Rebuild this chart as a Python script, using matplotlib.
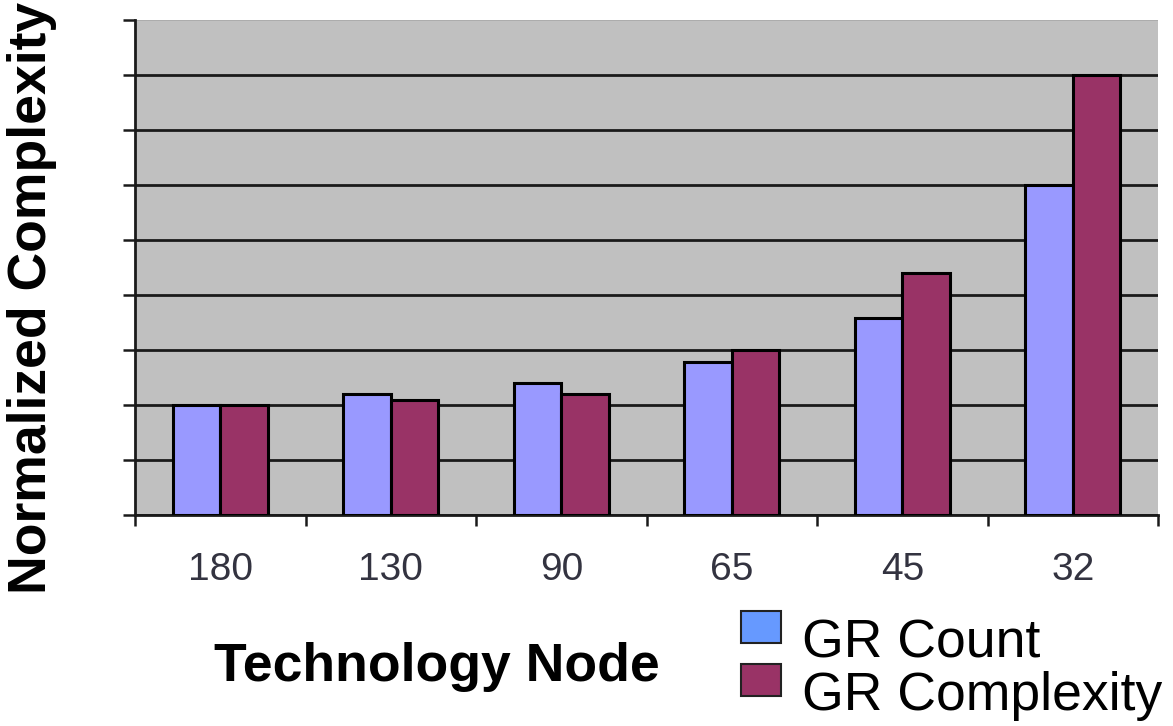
import numpy as np
import matplotlib.pyplot as plt
from matplotlib.patches import Rectangle

# technology nodes (nm) and normalized values, 180nm = 1
nodes = ['180', '130', '90', '65', '45', '32']
gr_count = [1.0, 1.1, 1.2, 1.39, 1.79, 3.0]
gr_complexity = [1.0, 1.05, 1.1, 1.5, 2.2, 4.0]
y_ticks = np.arange(0, 4.51, 0.5)

plt.rcParams['font.family'] = ['Liberation Sans', 'DejaVu Sans']

fig = plt.figure(figsize=(11.73, 7.26), dpi=100)
ax = fig.add_axes([135/1173, 1 - 515/726, (1158 - 135)/1173, (515 - 20)/726])
ax.set_facecolor('#C0C0C0')

x = np.arange(len(nodes))
w = 0.28
ax.bar(x - w/2, gr_count, w, color='#9999FF', edgecolor='black', linewidth=2.2, zorder=3)
ax.bar(x + w/2, gr_complexity, w, color='#993366', edgecolor='black', linewidth=2.2, zorder=3)

ax.set_xlim(-0.5, len(nodes) - 0.5)
ax.set_ylim(0, 4.5)

# y axis: ticks and dark gridlines, no labels
ax.set_yticks(y_ticks)
ax.set_yticklabels([])
ax.yaxis.grid(True, color='#1a1a1a', linewidth=2.0, zorder=1)
ax.set_axisbelow(True)
gl = ax.yaxis.get_gridlines()
gl[-1].set_color('#a8a8a8')
gl[-1].set_linewidth(1.2)
ax.tick_params(axis='y', length=9, width=1.8, color='#1a1a1a', direction='out')

# x axis: labels at centres, ticks between categories
ax.set_xticks(x)
ax.set_xticklabels(nodes, fontsize=28, color='#333340')
ax.set_xticks(np.arange(-0.5, len(nodes), 1), minor=True)
ax.tick_params(axis='x', which='major', length=0, pad=27)
ax.tick_params(axis='x', which='minor', length=8, width=1.8, color='#1a1a1a', direction='out')

for side in ['top', 'right']:
    ax.spines[side].set_visible(False)
for side in ['left', 'bottom']:
    ax.spines[side].set_color('#1a1a1a')
    ax.spines[side].set_linewidth(2.0)

fig.text(32/1173, 1 - 298/726, 'Normalized Complexity', rotation=90, fontsize=38.5,
         fontweight='bold', ha='center', va='center')
fig.text(437/1173, 1 - 667/726, 'Technology Node', fontsize=38.5,
         fontweight='bold', ha='center', va='center')

# legend drawn by hand under the plot
legend_items = [('GR Count', '#6699FF', 611), ('GR Complexity', '#993366', 664)]
for label, color, top in legend_items:
    fig.patches.append(Rectangle((741/1173, 1 - (top + 32)/726), 40/1173, 32/726,
                                 transform=fig.transFigure, facecolor=color,
                                 edgecolor='#222222', linewidth=1.5))
    fig.text(802/1173, 1 - (top + 46)/726, label, fontsize=38.5, ha='left', va='baseline')

fig.savefig('out.png', dpi=100)
